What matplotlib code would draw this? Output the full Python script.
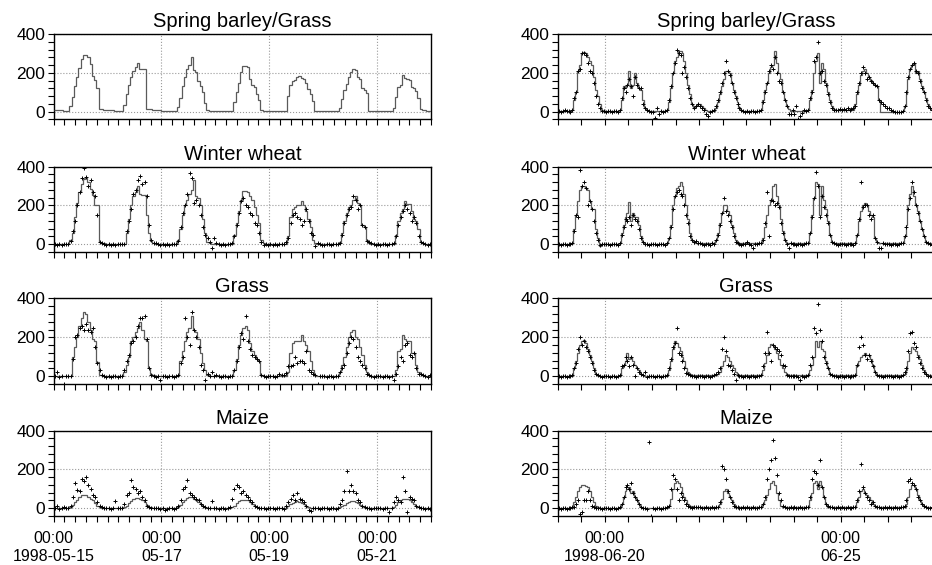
import numpy as np
import pandas as pd
import matplotlib
matplotlib.use("Agg")
import matplotlib.pyplot as plt
import matplotlib.dates as mdates
from matplotlib.ticker import MultipleLocator

plt.rcParams['font.family'] = ['Liberation Sans', 'DejaVu Sans']

# ---- data: hourly values, one row per day ----
# left column: 1998-05-15 .. 05-21, right column: 1998-06-19 .. 06-26
titles = ["Spring barley/Grass", "Winter wheat", "Grass", "Maize"]

left_barley_line = [
    8, 8, 7, 7, 6, 6, 5, 31, 78, 130, 179, 226, 270, 292, 290, 282, 247, 183, 165, 122, 14, 12, 11, 10,
    9, 8, 7, 6, 6, 5, 5, 35, 90, 135, 180, 210, 230, 250, 220, 220, 220, 15, 13, 12, 10, 9, 8, 7,
    6, 5, 5, 4, 4, 4, 4, 25, 70, 130, 180, 220, 240, 280, 215, 205, 160, 130, 100, 45, 8, 6, 5, 5,
    4, 4, 4, 3, 3, 3, 3, 3, 50, 100, 150, 205, 235, 235, 230, 170, 140, 125, 90, 60, 10, 4, 3, 3,
    3, 3, 3, 3, 3, 2, 2, 2, 80, 140, 160, 165, 180, 185, 175, 170, 150, 115, 90, 55, 5, 3, 3, 2,
    2, 2, 2, 2, 2, 2, 2, 20, 65, 110, 145, 180, 205, 220, 215, 180, 170, 120, 110, 95, 5, 3, 2, 2,
    2, 2, 2, 2, 2, 2, 2, 20, 75, 125, 140, 190, 175, 170, 165, 125, 120, 105, 70, 15, 10, 8, 6, 5,
]

left_wheat_line = [
    2, 1, 1, 1, 1, 1, 1, 20, 60, 140, 210, 270, 310, 335, 340, 320, 285, 255, 200, 200, 10, 8, 5, 3,
    2, 2, 2, 2, 2, 2, 2, 2, 60, 130, 200, 250, 270, 300, 260, 255, 255, 150, 60, 15, 5, 3, 2, 2,
    2, 2, 2, 2, 2, 2, 2, 20, 80, 150, 200, 230, 260, 280, 330, 250, 240, 200, 130, 60, 10, 5, 3, 2,
    2, 2, 2, 2, 2, 2, 2, 2, 50, 110, 170, 230, 275, 275, 270, 250, 230, 190, 150, 110, 20, 5, 3, 2,
    2, 2, 2, 2, 2, 2, 2, 2, 40, 140, 180, 190, 200, 200, 220, 200, 170, 130, 90, 20, 5, 3, 2, 2,
    2, 2, 2, 2, 2, 2, 2, 10, 60, 120, 160, 190, 200, 230, 250, 210, 200, 100, 90, 20, 5, 3, 2, 2,
    2, 2, 2, 2, 2, 2, 2, 2, 50, 120, 160, 180, 225, 205, 205, 170, 130, 120, 80, 10, 5, 3, 2, 2,
]
left_wheat_obs = [
    0, -2, 0, -3, 0, -1, 2, 15, 70, 120, 200, 270, 340, 390, 345, 300, 330, 270, 250, 150, 10, 5, 0, -3,
    2, -3, 0, -2, 1, -1, 0, 3, 70, 120, 180, 260, 280, 330, 350, 310, 320, 250, 100, 20, 8, 5, 0, -2,
    0, -2, 1, -3, 0, 2, -1, 15, 90, 160, 200, 260, 365, 340, 210, 230, 200, 150, 90, 50, 30, 10, -20, 30,
    5, 0, -2, 3, -3, 0, 2, 5, 40, 100, 160, 220, 240, 200, 190, 160, 150, 110, 100, 60, 10, -5, 0, -3,
    0, -3, 2, -2, 0, 1, -1, 10, 30, 110, 150, 160, 140, 130, 100, 120, 180, 120, 60, 50, -10, 5, 0, -2,
    -2, 1, 0, -3, 2, 0, -1, 5, 50, 110, 150, 180, 190, 250, 230, 180, 200, 100, 90, 15, 10, 5, 0, -2,
    0, -2, 1, 0, -3, 2, 0, 5, 40, 100, 140, 170, 200, 180, 160, 120, 140, 110, 40, 10, 5, 0, -2, 0,
]

left_grass_line = [
    2, 2, 2, 2, 2, 2, 2, 2, 100, 150, 200, 260, 300, 330, 320, 280, 240, 190, 180, 75, 8, 5, 3, 2,
    2, 2, 2, 2, 2, 2, 2, 20, 60, 100, 180, 200, 230, 250, 280, 240, 190, 180, 40, 10, 5, 3, 2, 2,
    2, 2, 2, 2, 2, 2, 2, 2, 80, 130, 180, 230, 250, 310, 240, 230, 190, 120, 70, 30, 5, 3, 2, 2,
    2, 2, 2, 2, 2, 2, 2, 2, 30, 90, 160, 210, 250, 260, 240, 170, 130, 110, 90, 80, 5, 3, 2, 2,
    2, 2, 2, 2, 2, 2, 2, 2, 20, 120, 170, 180, 180, 180, 210, 180, 160, 130, 80, 30, 5, 3, 2, 2,
    2, 2, 2, 2, 2, 2, 2, 20, 60, 100, 150, 200, 230, 240, 200, 190, 150, 110, 60, 20, 5, 3, 2, 2,
    2, 2, 2, 2, 2, 2, 2, 2, 30, 130, 140, 210, 190, 180, 180, 120, 120, 60, 20, 10, 5, 3, 2, 2,
]
left_grass_obs = [
    0, 20, -2, 0, -40, 1, 0, 2, 90, 200, 210, 250, 260, 240, 270, 240, 230, 250, 150, 70, 30, 5, 0, -2,
    0, -2, 3, 0, -3, 2, 0, 30, 80, 110, 170, 180, 200, 260, 300, 300, 310, 190, 40, 5, 0, -2, 0, -20,
    0, 2, -2, 0, 3, -2, 0, 5, 70, 100, 300, 200, 160, 330, 240, 200, 150, 60, 30, -20, 10, 0, 20, 0,
    5, 0, -3, 2, 0, -2, 3, 0, 30, 80, 150, 220, 190, 310, 180, 140, 110, 100, 90, 80, 5, 0, -3, 2,
    0, 2, -2, 0, 10, 5, 8, 15, 50, 50, 60, 100, 70, 80, 80, 70, 130, 30, 20, 10, 5, -40, 0, 3,
    0, -2, 3, 0, -2, 2, 0, 20, 40, 60, 120, 170, 200, 190, 150, 100, 80, 60, 40, 10, 5, 0, -2, 0,
    2, 0, -3, 0, 2, -2, 0, -20, 10, 50, 100, 80, 160, 170, 110, 100, 120, 40, 10, 10, 5, 0, -2, 5,
]

left_maize_line = [
    2, 2, 2, 2, 2, 2, 2, 5, 15, 30, 45, 60, 68, 70, 68, 60, 50, 40, 25, 12, 5, 3, 2, 2,
    2, 2, 2, 2, 2, 2, 2, 5, 12, 25, 38, 48, 55, 55, 50, 42, 30, 18, 8, 4, 3, 2, 2, 2,
    2, 2, 2, 2, 2, 2, 2, 5, 15, 30, 45, 55, 60, 58, 50, 40, 30, 20, 10, 5, 3, 2, 2, 2,
    2, 2, 2, 2, 2, 2, 2, 5, 12, 25, 35, 42, 45, 45, 40, 32, 22, 12, 6, 3, 2, 2, 2, 2,
    2, 2, 2, 2, 2, 2, 2, 2, 10, 20, 28, 33, 35, 33, 28, 20, 12, 6, 3, 2, 2, 2, 2, 2,
    2, 2, 2, 2, 2, 2, 2, 5, 10, 18, 25, 30, 35, 35, 32, 25, 18, 10, 5, 3, 2, 2, 2, 2,
    2, 2, 2, 2, 2, 2, 2, 5, 15, 30, 42, 48, 50, 48, 42, 32, 20, 10, 5, 3, 2, 2, 2, 2,
]
left_maize_obs = [
    0, 10, -2, 0, 5, 0, 2, 10, 60, 130, 95, 90, 150, 140, 160, 120, 100, 70, 60, 30, 10, 5, 0, 2,
    0, -2, 3, 35, 0, 2, 0, 20, 70, 80, 145, 110, 100, 80, 90, 60, 40, 10, 5, 3, 0, 2, 0, -2,
    0, -10, -5, 2, 0, -5, 0, 10, 40, 100, 110, 145, 80, 70, 60, 50, 40, 20, 10, 5, 0, 2, 35, 0,
    0, -2, 2, 0, -3, 0, 5, 50, 100, 120, 110, 80, 90, 70, 60, 40, 30, 10, 5, 0, 2, 0, -2, 0,
    0, 2, -2, 0, 3, 0, -2, 10, 30, 50, 70, 40, 80, 50, 40, 30, 10, -10, -15, 0, 2, 0, -2, 0,
    0, 2, -3, 0, 2, -2, 0, 20, 40, 90, 190, 90, 120, 90, 80, 40, 30, 10, 5, 2, 0, -2, 0, 2,
    0, 2, -2, 0, 3, -20, 0, 30, 60, 40, 30, 160, 90, -20, 60, 50, 40, 10, 5, 2, 0, -2, 0, -5,
]

right_barley_line = [
    5, 5, 5, 5, 5, 5, 5, 8, 60, 100, 210, 240, 300, 305, 300, 280, 260, 240, 180, 110, 80, 40, 10, 5,
    5, 5, 5, 5, 5, 5, 5, 8, 60, 130, 120, 140, 210, 120, 140, 200, 150, 120, 110, 60, 20, 10, 5, 5,
    5, 5, 5, 5, 5, 5, 5, 8, 50, 120, 200, 260, 280, 310, 310, 300, 260, 200, 140, 90, 40, 20, 30, 40,
    40, 30, 20, 10, 5, 5, 5, 5, 20, 50, 90, 130, 170, 210, 210, 200, 150, 110, 80, 50, 25, 10, 5, 5,
    5, 5, 5, 5, 5, 5, 5, 10, 60, 110, 150, 200, 230, 240, 310, 250, 200, 170, 100, 60, 30, 15, 5, 5,
    5, 5, 5, 5, 5, 5, 5, 10, 60, 110, 200, 260, 300, 150, 250, 220, 150, 100, 60, 30, 15, 10, 10, 10,
    10, 10, 10, 10, 10, 10, 10, 40, 90, 140, 190, 210, 220, 200, 180, 165, 150, 140, 130, 60, 0, 0, 0, 0,
    0, 0, 0, 0, 0, 0, 0, 5, 30, 90, 170, 220, 240, 250, 200, 210, 170, 130, 100, 70, 40, 20, 10, 5,
]
right_barley_obs = [
    5, 0, 3, 8, 2, 5, 0, 10, 70, 100, 210, 220, 300, 300, 290, 250, 210, 200, 150, 80, 40, 20, 5, 2,
    0, 5, 2, 0, 3, 5, 0, 10, 70, 120, 100, 140, 170, 130, 80, 180, 140, 120, 120, 40, 20, 10, 5, 0,
    0, -30, 20, -10, 5, 0, 2, 10, 60, 130, 200, 250, 320, 300, 290, 200, 230, 180, 120, 70, 40, 20, 30, 40,
    30, 20, 10, -10, -20, 0, 5, 10, 30, 60, 100, 150, 200, 260, 210, 190, 150, 100, 70, 40, 20, 10, 5, 0,
    5, 0, 2, 5, 0, 3, 5, 10, 50, 100, 150, 210, 240, 220, 280, 200, 160, 150, 100, 60, 30, -10, -10, 10,
    -10, 30, -40, -20, -5, 10, 5, 10, 70, 100, 260, 280, 360, 200, 210, 160, 140, 90, 50, 20, 10, 10, 10, 15,
    10, 15, 10, 20, 10, 15, 20, 30, 100, 150, 200, 230, 200, 170, 180, 160, 150, 140, 130, 60, 50, 40, 30, 20,
    20, 10, 5, 0, 0, 0, 0, 5, 30, 100, 180, 220, 240, 250, 210, 200, 160, 120, 100, 60, 30, 20, 10, 5,
]

right_wheat_line = [
    0, 0, 0, 0, 0, 0, 0, 5, 80, 150, 220, 280, 300, 300, 290, 280, 220, 180, 180, 80, 30, -10, 0, 0,
    0, 0, 0, 0, 0, 0, 0, 5, 60, 100, 140, 160, 215, 120, 160, 140, 140, 100, 40, 10, 0, 0, 0, 0,
    0, 0, 0, 0, 0, 0, 0, 5, 30, 100, 200, 250, 290, 300, 320, 300, 260, 200, 130, 60, 20, 10, 5, 5,
    5, 5, 5, 5, 5, 5, 5, 5, 20, 60, 110, 160, 200, 200, 170, 150, 100, 60, 20, 10, 5, 5, 5, 5,
    5, 5, 5, 5, 5, 5, 5, 5, 30, 90, 150, 200, 230, 300, 310, 250, 200, 130, 70, 20, 5, 5, 5, 5,
    5, 5, 5, 5, 5, 5, 5, 5, 60, 150, 240, 320, 310, 150, 300, 230, 180, 120, 50, 10, 5, 5, 5, 5,
    5, 5, 5, 5, 5, 5, 5, 5, 50, 120, 170, 200, 210, 200, 170, 150, 140, 30, 10, 5, 5, 5, 5, 5,
    5, 5, 5, 5, 5, 5, 5, 5, 40, 100, 200, 260, 300, 250, 200, 170, 120, 80, 40, 10, 5, 5, 5, 5,
]
right_wheat_obs = [
    0, -3, 2, 0, -2, 3, 0, 5, 70, 150, 140, 380, 300, 320, 290, 200, 220, 180, 120, 60, 20, -5, 0, 2,
    0, 2, -2, 0, 3, 0, -2, 5, 50, 90, 130, 120, 140, 100, 150, 130, 120, 80, 30, 10, 2, 0, -2, 0,
    0, 2, -2, 0, 0, 3, -2, 5, 30, 90, 180, 250, 270, 280, 260, 250, 200, 150, 110, 40, 20, 10, 15, 5,
    5, 0, -2, 3, 0, -2, 5, 0, 20, 50, 100, 160, 240, 170, 150, 120, 90, 40, 10, 5, 0, -2, 3, 0,
    10, 0, -2, -20, 3, 0, 5, 5, 20, 110, 270, 40, 230, 220, 200, 210, 190, 110, 60, 20, 0, -20, 5, 0,
    0, -2, 3, 0, -2, 2, 5, 5, 60, 140, 240, 370, 300, 140, 250, 190, 150, 110, 50, 10, 5, 0, -2, 3,
    0, 2, -2, 0, 3, 0, -2, 5, 50, 130, 320, 190, 200, 200, 150, 130, 150, 30, 10, -20, -20, 5, 0, 2,
    0, -2, 3, 0, -2, 2, 5, 5, 40, 90, 180, 240, 320, 270, 200, 160, 120, 80, 40, 10, 5, 0, -2, 0,
]

right_grass_line = [
    0, 0, 0, 0, 0, 0, 0, 0, 40, 80, 120, 160, 180, 185, 170, 140, 110, 80, 40, 10, 5, 0, 0, 0,
    0, 0, 0, 0, 0, 0, 0, 0, 40, 60, 80, 120, 90, 100, 80, 60, 40, 30, 10, 5, 0, 0, 0, 0,
    0, 0, 0, 0, 0, 0, 0, 0, 30, 80, 140, 180, 170, 150, 130, 100, 80, 40, 20, 10, 5, 5, 5, 5,
    5, 5, 5, 5, 5, 5, 5, 5, 5, 10, 20, 50, 80, 110, 100, 80, 60, 40, 20, 10, 5, 5, 5, 5,
    5, 5, 5, 5, 5, 5, 5, 5, 30, 70, 110, 150, 165, 160, 140, 120, 90, 60, 40, 20, 10, 5, 5, 5,
    5, 5, 5, 5, 5, 5, 5, 5, 30, 60, 100, 180, 150, 180, 140, 130, 80, 40, 10, 5, 5, 5, 5, 5,
    5, 5, 5, 5, 5, 5, 5, 5, 50, 80, 100, 110, 120, 110, 110, 90, 60, 20, 5, 5, 5, 5, 5, 5,
    5, 5, 5, 5, 5, 5, 5, 5, 10, 30, 80, 120, 150, 140, 130, 110, 90, 60, 30, 10, 5, 5, 5, 5,
]
right_grass_obs = [
    0, -2, 2, 0, -3, 0, 2, 5, 40, 70, 140, 200, 160, 180, 150, 130, 100, 70, 30, 10, 5, 0, -2, 0,
    0, 2, -2, 0, 2, -2, 0, 5, 50, 60, 100, 80, 50, 100, 60, 0, 40, 20, 10, 5, 20, -2, 0, 2,
    0, -2, 2, 0, -3, 0, 2, 5, 40, 90, 150, 170, 250, 120, 110, 80, 40, 15, 10, 5, 0, 2, -2, 0,
    0, 2, -2, 0, 2, -2, 0, 5, 10, 20, 40, 140, 200, 130, 60, 50, 30, 10, -20, 5, 0, 2, -2, 0,
    0, -2, 2, 0, -3, 0, 2, 5, 50, 120, 230, 120, 80, 160, 150, 140, 130, 110, 60, 55, 5, 0, 2, 0,
    0, 2, -2, -20, 2, -2, 0, 5, 60, 100, 250, 220, 370, 240, 180, 100, 70, 40, 10, 5, 0, 2, -2, 0,
    0, -2, 2, 0, -3, 0, 2, 5, 60, 150, 200, 160, 110, 90, 110, 80, 50, 20, 5, 0, 2, -2, 0, 2,
    0, 2, -2, 0, 2, -2, 0, 5, 20, 40, 130, 220, 230, 170, 150, 100, 70, 40, 20, 10, 0, 2, -2, 0,
]

right_maize_line = [
    0, 0, 0, 0, 0, 0, 0, 0, 30, 60, 90, 110, 120, 120, 115, 110, 90, 60, 30, 10, 5, 0, 0, 0,
    0, 0, 0, 0, 0, 0, 0, 0, 20, 60, 90, 100, 110, 80, 90, 60, 40, 20, 5, 0, 0, 0, 0, 0,
    0, 0, 0, 0, 0, 0, 0, 0, 10, 50, 100, 130, 140, 130, 110, 80, 60, 40, 20, 10, 10, 5, 5, 5,
    5, 5, 5, 5, 5, 5, 5, 5, 5, 5, 20, 50, 90, 100, 80, 60, 40, 20, 5, 5, 5, 5, 5, 5,
    5, 5, 5, 5, 5, 5, 5, 5, 20, 40, 70, 100, 130, 140, 120, 80, 40, 10, 5, 5, 5, 5, 5, 5,
    5, 5, 5, 5, 5, 5, 5, 5, 40, 80, 130, 140, 100, 140, 110, 60, 20, 5, 5, 5, 5, 5, 5, 5,
    5, 5, 5, 5, 5, 5, 5, 5, 30, 60, 90, 100, 80, 70, 60, 40, 20, 10, 5, 5, 5, 5, 5, 5,
    5, 5, 5, 5, 5, 5, 5, 5, 5, 20, 60, 100, 120, 120, 100, 70, 40, 20, 10, 5, 5, 0, 0, 0,
]
right_maize_obs = [
    0, -2, 2, 0, -3, 0, 2, 5, 5, 20, 40, -30, -20, 40, 40, 90, 40, 10, 5, 0, 0, 2, -2, 0,
    0, 2, -2, 0, 2, -2, 0, 5, 20, 60, 110, 120, 100, 130, 80, 60, 40, 20, 5, 0, 2, -2, 340, -40,
    0, -2, 2, 0, -3, 0, 2, 5, 10, 100, 170, 150, 100, 40, 80, 60, 40, 20, 10, 5, 0, 5, 5, 5,
    5, 0, 2, 5, 0, 3, 5, 0, 5, 5, 30, 220, 200, 150, 90, 60, 30, 10, 5, 5, 0, 2, 5, 0,
    5, 0, 2, 5, 0, 3, 5, 5, 20, 60, 150, 200, 250, 350, 260, 170, 80, 40, 10, 5, 0, 2, 5, 0,
    5, 0, 2, 5, 0, 3, 5, 5, 60, 150, 190, 180, 120, 250, 110, 60, 20, 10, 5, 5, 0, 2, 5, 0,
    5, 0, 2, 5, 0, 3, 5, 5, 40, 90, 230, 110, 80, 60, 40, 20, 30, 10, 5, 5, 0, 2, 5, 0,
    5, 0, 2, 5, 0, 3, 5, 5, 10, 40, 140, 150, 130, 120, 100, 60, 40, 20, 10, 5, 0, 2, 5, 0,
]

left_start, left_days = "1998-05-15", 7
right_start, right_days = "1998-06-19", 8
left_major = ["1998-05-15", "1998-05-17", "1998-05-19", "1998-05-21"]
left_labels = ["00:00\n1998-05-15", "00:00\n05-17", "00:00\n05-19", "00:00\n05-21"]
right_major = ["1998-06-20", "1998-06-25"]
right_labels = ["00:00\n1998-06-20", "00:00\n06-25"]

left_series = [(left_barley_line, None), (left_wheat_line, left_wheat_obs),
               (left_grass_line, left_grass_obs), (left_maize_line, left_maize_obs)]
right_series = [(right_barley_line, right_barley_obs), (right_wheat_line, right_wheat_obs),
                (right_grass_line, right_grass_obs), (right_maize_line, right_maize_obs)]


def draw(ax, start, ndays, line, obs, major, labels, minor_step, bottom):
    edges = pd.date_range(start, periods=ndays * 24 + 1, freq="h")
    enum = mdates.date2num(edges.to_pydatetime())
    assert len(line) == ndays * 24
    ax.stairs(line, enum, baseline=None, color="#5a5a5a", lw=0.9, zorder=3)
    if obs is not None:
        assert len(obs) == ndays * 24
        ax.plot(enum[:-1] + 0.5 / 24, obs, ls="none", marker="+", ms=3.5, mew=0.7,
                color="black", zorder=4)
    ax.set_xlim(enum[0], enum[-1])
    ax.set_ylim(-40, 400)
    ax.set_yticks([0, 200, 400])
    ax.yaxis.set_minor_locator(MultipleLocator(40))
    ticks = mdates.date2num(pd.to_datetime(major).to_pydatetime())
    ax.set_xticks(ticks)
    ax.set_xticklabels(labels)
    ax.xaxis.set_minor_locator(MultipleLocator(minor_step))
    ax.grid(which="major", ls=":", color="#9a9a9a", lw=0.8)
    ax.tick_params(which="both", direction="out", length=4, width=0.8, colors="black")
    ax.tick_params(axis="y", labelsize=12.5, pad=2)
    ax.tick_params(axis="x", labelsize=11.5, pad=7, labelbottom=bottom)
    for s in ax.spines.values():
        s.set_linewidth(1.0)


fig = plt.figure(figsize=(9.32, 5.65), dpi=100)
bottoms = [0.7885, 0.554, 0.3204, 0.0867]
height = 0.1513
for i in range(4):
    axl = fig.add_axes([0.0576, bottoms[i], 0.4048, height])
    draw(axl, left_start, left_days, left_series[i][0], left_series[i][1],
         left_major, left_labels, 0.2, i == 3)
    axl.set_title(titles[i], fontsize=14.5, pad=5)
    axr = fig.add_axes([0.5984, bottoms[i], 0.4048, height])
    draw(axr, right_start, right_days, right_series[i][0], right_series[i][1],
         right_major, right_labels, 0.5, i == 3)
    axr.set_title(titles[i], fontsize=14.5, pad=5)

fig.savefig("out.png", dpi=100)
